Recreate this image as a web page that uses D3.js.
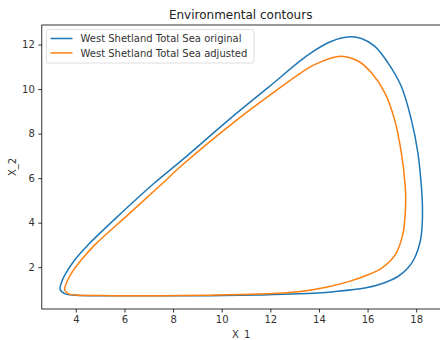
<!DOCTYPE html>
<html>
<head>
<meta charset="utf-8">
<script src="https://cdn.jsdelivr.net/npm/d3@7"></script>
<style>
  body { margin: 0; background: #fff; }
  text { font-family: "DejaVu Sans", sans-serif; }
</style>
</head>
<body>
<div id="chart1"></div>
<script>
// contour points, walking round from the left tip
let originalX = [3.35, 3.56, 3.97, 5.5, 7.44, 9.5, 11.5, 13.16, 14.6, 15.89, 16.7, 17.25, 17.65, 17.93, 18.18, 18.25, 18.25, 18.2, 18.07, 17.8, 17.39, 16.84, 16.3, 15.75, 15.28, 14.52, 13.57, 11.93, 10.3, 8.39, 7.23, 5.87, 4.5, 3.96, 3.55, 3.4];
let originalY = [1.01, 0.8, 0.74, 0.72, 0.72, 0.72, 0.75, 0.8, 0.9, 1.06, 1.3, 1.58, 1.95, 2.4, 3.23, 3.98, 5.0, 5.8, 7.13, 8.63, 10.12, 11.18, 11.92, 12.27, 12.35, 12.15, 11.55, 10.09, 8.63, 6.83, 5.78, 4.43, 3.0, 2.33, 1.65, 1.28];

let adjustedX = [3.54, 3.7, 4.11, 5.5, 7.52, 9.5, 11.53, 13.16, 14.3, 15.21, 16.0, 16.57, 16.95, 17.18, 17.46, 17.55, 17.57, 17.55, 17.39, 17.11, 16.71, 16.16, 15.62, 14.8, 13.98, 13.57, 12.21, 10.64, 8.39, 7.5, 6.14, 4.78, 4.23, 3.82, 3.6];
let adjustedY = [0.98, 0.8, 0.74, 0.72, 0.72, 0.74, 0.79, 0.9, 1.1, 1.35, 1.65, 1.95, 2.3, 2.63, 3.53, 4.43, 5.03, 5.63, 7.13, 8.63, 9.83, 10.73, 11.25, 11.47, 11.18, 10.95, 9.91, 8.63, 6.6, 5.7, 4.35, 3.0, 2.33, 1.73, 1.25];

let seriesNames = ['West Shetland Total Sea original', 'West Shetland Total Sea adjusted'];
let seriesColors = ['#1f77b4', '#ff7f0e'];
let xTicks = [4, 6, 8, 10, 12, 14, 16, 18];
let yTicks = [2, 4, 6, 8, 10, 12];

let dim = { width: 440, height: 340 };
let plot = { left: 41.8, right: 440.5, top: 25, bottom: 309 };

let svg = d3.select('#chart1').append('svg')
    .attr('width', dim.width)
    .attr('height', dim.height);

let scaleX = d3.scaleLinear().domain([2.6, 19.0]).range([plot.left, plot.right]);
let scaleY = d3.scaleLinear().domain([0.12, 12.88]).range([plot.bottom, plot.top]);

let series = [
    originalX.map((x, i) => [x, originalY[i]]),
    adjustedX.map((x, i) => [x, adjustedY[i]])
];

let line = d3.line()
    .x(d => scaleX(d[0]))
    .y(d => scaleY(d[1]))
    .curve(d3.curveCatmullRomClosed.alpha(0.5));

svg.append('defs').append('clipPath').attr('id', 'clip')
    .append('rect')
    .attr('x', plot.left).attr('y', plot.top)
    .attr('width', plot.right - plot.left).attr('height', plot.bottom - plot.top);

svg.append('g').attr('clip-path', 'url(#clip)')
    .selectAll('path')
    .data(series)
    .join('path')
    .attr('d', line)
    .attr('fill', 'none')
    .attr('stroke', (d, i) => seriesColors[i])
    .attr('stroke-width', 1.5);

// axes
let axisX = d3.axisBottom(scaleX).tickValues(xTicks).tickSize(3.5).tickPadding(3.5);
let axisY = d3.axisLeft(scaleY).tickValues(yTicks).tickSize(3.5).tickPadding(3.5);

let gx = svg.append('g')
    .attr('transform', `translate(0, ${plot.bottom})`)
    .call(axisX);
let gy = svg.append('g')
    .attr('transform', `translate(${plot.left}, 0)`)
    .call(axisY);

[gx, gy].forEach(g => {
    g.select('.domain').remove();
    g.selectAll('line').attr('stroke', '#000').attr('stroke-width', 0.8);
    g.selectAll('text').attr('fill', '#333').style('font-size', '10px')
        .style('font-family', '"DejaVu Sans", sans-serif');
});

// spines
svg.append('rect')
    .attr('x', plot.left).attr('y', plot.top)
    .attr('width', plot.right - plot.left).attr('height', plot.bottom - plot.top)
    .attr('fill', 'none')
    .attr('stroke', '#000')
    .attr('stroke-width', 0.8);

// titles
svg.append('text')
    .attr('x', (plot.left + plot.right) / 2 - 0.5)
    .attr('y', 19)
    .attr('text-anchor', 'middle')
    .style('font-size', '12px')
    .attr('fill', '#222')
    .text('Environmental contours');

svg.append('text')
    .attr('x', (plot.left + plot.right) / 2)
    .attr('y', 338)
    .attr('text-anchor', 'middle')
    .style('font-size', '10px')
    .attr('fill', '#333')
    .text('X_1');

svg.append('text')
    .attr('transform', `translate(16, ${(plot.top + plot.bottom) / 2}) rotate(-90)`)
    .attr('text-anchor', 'middle')
    .style('font-size', '10px')
    .attr('fill', '#333')
    .text('X_2');

// legend
let legend = svg.append('g').attr('transform', 'translate(46.5, 29.5)');
legend.append('rect')
    .attr('width', 207.5).attr('height', 33.5)
    .attr('rx', 2).attr('ry', 2)
    .attr('fill', 'rgba(255,255,255,0.8)')
    .attr('stroke', '#d6d6d6')
    .attr('stroke-width', 0.8);

seriesNames.forEach((name, i) => {
    let y = 9 + i * 14.4;
    legend.append('line')
        .attr('x1', 4).attr('x2', 26)
        .attr('y1', y).attr('y2', y)
        .attr('stroke', seriesColors[i])
        .attr('stroke-width', 1.5);
    legend.append('text')
        .attr('x', 34).attr('y', y + 3.6)
        .style('font-size', '10px')
        .attr('fill', '#333')
        .text(name);
});
</script>
</body>
</html>
